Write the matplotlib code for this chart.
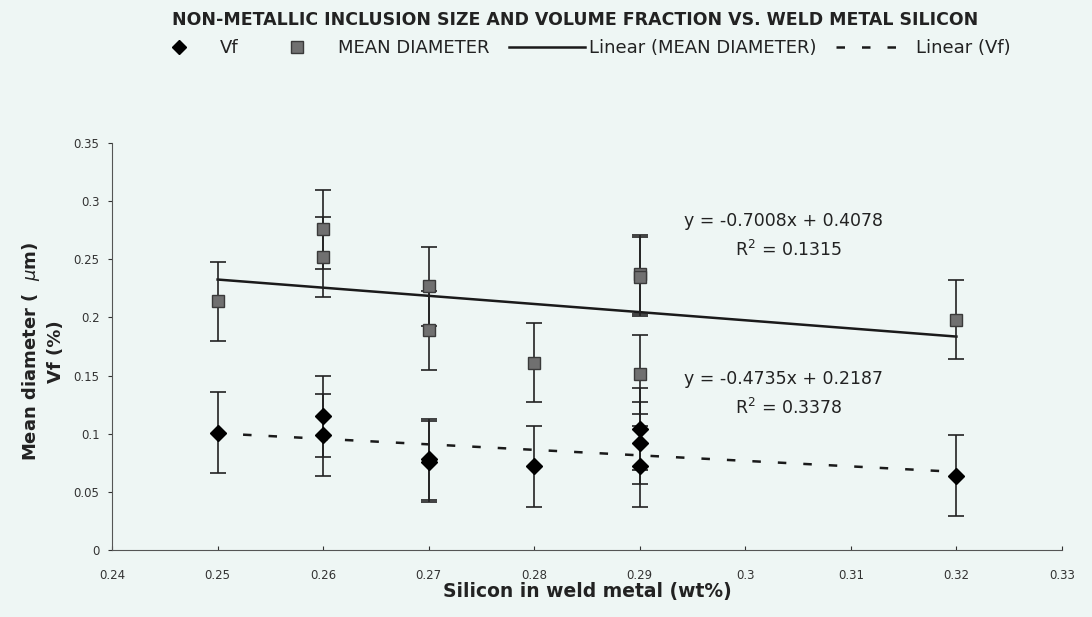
import matplotlib.pyplot as plt
from matplotlib.lines import Line2D
import numpy as np

# silicon content of each weld (wt%)
si = [0.25, 0.26, 0.26, 0.27, 0.27, 0.28, 0.29, 0.29, 0.29, 0.32]
# mean inclusion diameter (um) and volume fraction (%)
mean_dia = [0.214, 0.276, 0.252, 0.227, 0.189, 0.161, 0.237, 0.235, 0.151, 0.198]
vf = [0.101, 0.115, 0.099, 0.078, 0.076, 0.072, 0.104, 0.092, 0.072, 0.064]
# fixed error bar sizes
err_dia = 0.034
err_vf = 0.035

# linear trend coefficients (slope, intercept, R2)
fit_dia = (-0.7008, 0.4078, 0.1315)
fit_vf = (-0.4735, 0.2187, 0.3378)

bg = "#eef6f4"
ink = "#222222"
plt.rcParams["font.family"] = ["DejaVu Sans"]

fig = plt.figure(figsize=(10.92, 6.17), dpi=100, facecolor=bg)
ax = fig.add_axes([0.1026, 0.1086, 0.8699, 0.6596], facecolor=bg)

# error bars + markers
ax.errorbar(si, vf, yerr=err_vf, fmt="D", color="black", ms=8.5, mfc="black",
            mec="black", ecolor=ink, elinewidth=1.2, capsize=6, capthick=1.2, zorder=3)
ax.errorbar(si, mean_dia, yerr=err_dia, fmt="s", color="#666666", ms=9, mfc="#707070",
            mec="#3a3a3a", ecolor=ink, elinewidth=1.2, capsize=6, capthick=1.2, zorder=3)

# trend lines
xs = np.array([min(si), max(si)])
dash = (0, (3.4, 6.8))
ax.plot(xs, fit_dia[0] * xs + fit_dia[1], color="#1a1a1a", lw=1.8, zorder=2)
ax.plot(xs, fit_vf[0] * xs + fit_vf[1], color="#1a1a1a", lw=1.8, ls=dash, zorder=2)

ax.text(0.3036, 0.283, f"y = {fit_dia[0]:.4f}x + {fit_dia[1]:.4f}", ha="center",
        va="center", fontsize=12.5, color=ink)
ax.text(0.3041, 0.258, f"R$^2$ = {fit_dia[2]:.4f}", ha="center", va="center",
        fontsize=12.5, color=ink)
ax.text(0.3036, 0.147, f"y = {fit_vf[0]:.4f}x + {fit_vf[1]:.4f}", ha="center",
        va="center", fontsize=12.5, color=ink)
ax.text(0.3041, 0.122, f"R$^2$ = {fit_vf[2]:.4f}", ha="center", va="center",
        fontsize=12.5, color=ink)

ax.set_xlim(0.24, 0.33)
ax.set_ylim(0, 0.35)
ax.set_xticks(np.arange(0.24, 0.3301, 0.01))
ax.set_xticklabels(["0.24", "0.25", "0.26", "0.27", "0.28", "0.29", "0.3", "0.31", "0.32", "0.33"])
ax.set_yticks(np.arange(0, 0.351, 0.05))
ax.set_yticklabels(["0", "0.05", "0.1", "0.15", "0.2", "0.25", "0.3", "0.35"])
ax.tick_params(labelsize=8.5, colors="#333333", length=3, width=0.8)
ax.tick_params(axis="y", pad=6)
ax.tick_params(axis="x", direction="in", pad=14)
for s in ["top", "right"]:
    ax.spines[s].set_visible(False)
for s in ["left", "bottom"]:
    ax.spines[s].set_color("#555555")
    ax.spines[s].set_linewidth(0.8)

ax.set_xlabel("Silicon in weld metal (wt%)", fontsize=13.5, fontweight="bold",
              labelpad=0, color=ink)
fig.text(0.039, 0.43, "Mean diameter (  $\\mu$m)\nVf (%)", rotation=90, ha="center",
         va="center", fontsize=13, fontweight="bold", color=ink, linespacing=1.3)

fig.text(0.527, 0.968, "NON-METALLIC INCLUSION SIZE AND VOLUME FRACTION VS. WELD METAL SILICON",
         ha="center", va="center", fontsize=12.5, fontweight="bold", color=ink)

handles = [
    Line2D([], [], ls="none", marker="D", ms=7, color="black"),
    Line2D([], [], ls="none", marker="s", ms=8, mfc="#707070", mec="#3a3a3a"),
    Line2D([], [], color="#1a1a1a", lw=1.8),
    Line2D([], [], color="#1a1a1a", lw=1.8, ls=dash),
]
labels = ["Vf", "MEAN DIAMETER", "Linear (MEAN DIAMETER)", "Linear (Vf)"]
fig.legend(handles, labels, loc="center", bbox_to_anchor=(0.527, 0.922), ncol=4,
           frameon=False, fontsize=13, handlelength=4.2, columnspacing=1.1,
           handletextpad=0.2, labelcolor=ink)

fig.savefig("out.png", dpi=100, facecolor=bg)
